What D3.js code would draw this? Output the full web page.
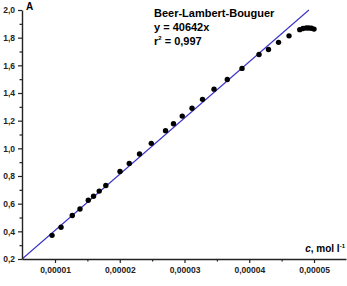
<!DOCTYPE html>
<html>
<head>
<meta charset="utf-8">
<title>Beer-Lambert-Bouguer</title>
<style>
  body { margin: 0; background: #fff; }
  svg text { font-family: "Liberation Sans", Arial, sans-serif; font-weight: bold; }
</style>
</head>
<body>
<svg width="347" height="286"></svg>
<script src="https://d3js.org/d3.v7.min.js"></script>
<script>
// measured points: concentration (mol/l) and absorbance
var conc = [0.954e-5, 1.093e-5, 1.267e-5, 1.386e-5, 1.514e-5, 1.595e-5, 1.683e-5, 1.785e-5,
            2.004e-5, 2.147e-5, 2.305e-5, 2.487e-5, 2.707e-5, 2.830e-5, 2.965e-5, 3.116e-5,
            3.278e-5, 3.456e-5, 3.661e-5, 3.888e-5, 4.151e-5, 4.297e-5, 4.452e-5, 4.614e-5,
            4.78e-5, 4.83e-5, 4.88e-5, 4.92e-5, 4.96e-5, 5.0e-5];
var absorb = [0.371, 0.429, 0.514, 0.561, 0.625, 0.654, 0.691, 0.731,
              0.832, 0.891, 0.959, 1.036, 1.128, 1.178, 1.233, 1.290,
              1.354, 1.428, 1.498, 1.578, 1.678, 1.714, 1.766, 1.813,
              1.858, 1.866, 1.870, 1.870, 1.868, 1.862];
var slope = 40642;
var xTicks = [0.00001, 0.00002, 0.00003, 0.00004, 0.00005];
var xMinor = [0.000015, 0.000025, 0.000035, 0.000045];
var yTicks = [0.2, 0.4, 0.6, 0.8, 1.0, 1.2, 1.4, 1.6, 1.8, 2.0];
var yMinor = [0.3, 0.5, 0.7, 0.9, 1.1, 1.3, 1.5, 1.7, 1.9];

var svg = d3.select("svg");

var x = d3.scaleLinear().domain([4.9035e-6, 5.494e-5]).range([22, 346]);
var y = d3.scaleLinear().domain([0.2, 2.0]).range([259, 10]);

var comma = function(d) { return String(d).replace(".", ","); };
var fmtY = function(d) { return d.toFixed(1).replace(".", ","); };
var fmtX = function(d) { return d.toFixed(5).replace(".", ","); };

// fitted line, clipped to the plot
var fitX = [y.domain()[0] / slope, y.domain()[1] / slope];
svg.append("line")
    .attr("x1", x(fitX[0])).attr("y1", y(slope * fitX[0]))
    .attr("x2", x(fitX[1])).attr("y2", y(slope * fitX[1]))
    .attr("stroke", "#3a32c8")
    .attr("stroke-width", 1.1);

// points
svg.append("g").selectAll("circle")
    .data(conc)
    .enter().append("circle")
    .attr("cx", function(d) { return x(d); })
    .attr("cy", function(d, i) { return y(absorb[i]); })
    .attr("r", 2.7)
    .attr("fill", "#000");

// x axis
var gx = svg.append("g").attr("transform", "translate(0,259)");
gx.call(d3.axisBottom(x).tickValues(xTicks).tickFormat(fmtX).tickSize(4).tickSizeOuter(0).tickPadding(4));
svg.append("g").attr("transform", "translate(0,259)")
    .call(d3.axisBottom(x).tickValues(xMinor).tickFormat("").tickSize(2.5).tickSizeOuter(0))
    .select(".domain").remove();

// y axis
var gy = svg.append("g").attr("transform", "translate(22,0)");
gy.call(d3.axisLeft(y).tickValues(yTicks).tickFormat(fmtY).tickSize(4).tickSizeOuter(0).tickPadding(3));
svg.append("g").attr("transform", "translate(22,0)")
    .call(d3.axisLeft(y).tickValues(yMinor).tickFormat("").tickSize(2.5).tickSizeOuter(0))
    .select(".domain").remove();

svg.selectAll(".domain").attr("stroke", "#222").attr("stroke-width", 1.4);
svg.selectAll(".tick line").attr("stroke", "#222").attr("stroke-width", 1.2);
svg.selectAll(".tick text")
    .attr("fill", "#222")
    .style("font-size", "8.5px")
    .style("font-family", "'Liberation Sans', Arial, sans-serif")
    .style("font-weight", "bold");

// axis titles
svg.append("text")
    .attr("x", 26).attr("y", 10)
    .style("font-size", "10px")
    .text("A");

var xt = svg.append("text")
    .attr("x", 345).attr("y", 252)
    .attr("text-anchor", "end")
    .style("font-size", "10px");
xt.append("tspan").style("font-style", "italic").text("c");
xt.append("tspan").text(", mol l");
xt.append("tspan").attr("dy", -4).style("font-size", "6px").text("-1");

// annotation
svg.append("text").attr("x", 154).attr("y", 17).style("font-size", "11px").text("Beer-Lambert-Bouguer");
svg.append("text").attr("x", 154).attr("y", 31).style("font-size", "11px").text("y = " + slope + "x");
var r2 = svg.append("text").attr("x", 154).attr("y", 45).style("font-size", "11px");
r2.append("tspan").text("r");
r2.append("tspan").attr("dy", -5).style("font-size", "6px").text("2");
r2.append("tspan").attr("dy", 5).text(" = " + comma(0.997));
</script>
</body>
</html>
